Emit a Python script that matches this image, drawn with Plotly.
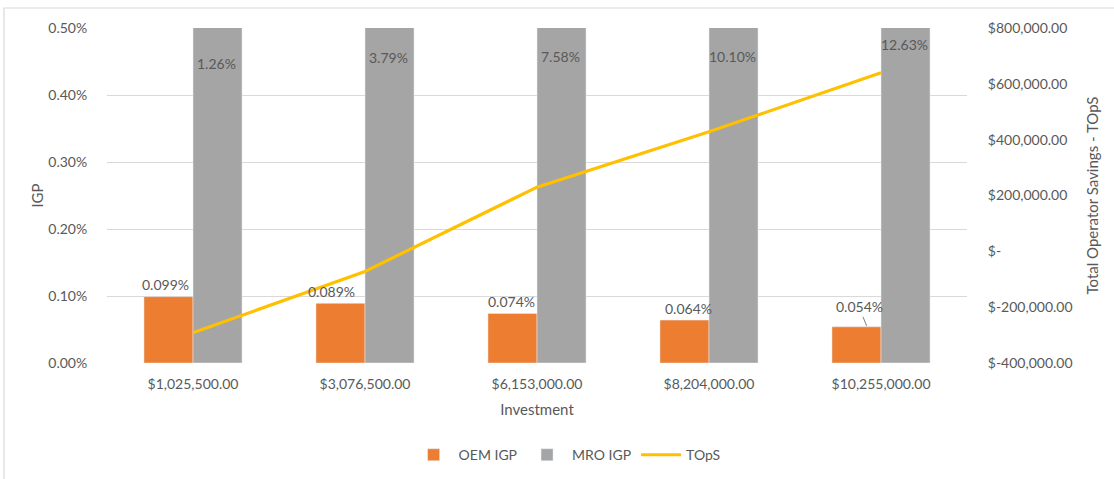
import plotly.graph_objects as go

# Investment levels (category axis)
investment = ["$1,025,500.00", "$3,076,500.00", "$6,153,000.00", "$8,204,000.00", "$10,255,000.00"]

# IGP series (fractions, shown as percent)
oem_igp = [0.00099, 0.00089, 0.00074, 0.00064, 0.00054]
mro_igp = [0.0126, 0.0379, 0.0758, 0.1010, 0.1263]

# Total operator savings (USD)
tops = [-292000, -72000, 230000, 428000, 640000]

# Right-axis ticks
tops_ticks = [-400000, -200000, 0, 200000, 400000, 600000, 800000]
tops_ticktext = ["$-400,000.00", "$-200,000.00", "$-", "$200,000.00",
                 "$400,000.00", "$600,000.00", "$800,000.00"]

FONT = "Lato, 'Open Sans', sans-serif"
TXT = "#595959"
ORANGE = "#ED7D31"
GREY = "#A5A5A5"
GOLD = "#FFC000"
FS = 14

W, H = 1114, 479
L, R, T, B = 107, 147, 28, 116

fig = go.Figure()
fig.add_trace(go.Bar(name="OEM IGP", x=investment, y=oem_igp, marker_color=ORANGE,
                     hoverinfo="skip"))
fig.add_trace(go.Bar(name="MRO IGP", x=investment, y=mro_igp, marker_color=GREY,
                     hoverinfo="skip"))
fig.add_trace(go.Scatter(name="TOpS", x=investment, y=tops, yaxis="y2", mode="lines",
                         line=dict(color=GOLD, width=3.2)))

annotations = []
# OEM labels above the orange bars
oem_dx = [-28, -34, -26, -21, -21]
for i, (cat, v, dx) in enumerate(zip(investment, oem_igp, oem_dx)):
    last = i == len(investment) - 1
    annotations.append(dict(
        x=cat, y=v, xref="x", yref="y", text=f"{v*100:.3f}%",
        xshift=dx if not last else -14, yshift=12 if not last else 0,
        showarrow=last, arrowhead=0, arrowcolor="#7f7f7f", arrowwidth=1,
        ax=-8, ay=-20, standoff=1,
        font=dict(family=FONT, size=FS, color=TXT),
    ))
# MRO labels near the top of the grey bars (bars exceed the axis range)
mro_offsets = [-35, -29, -28, -28, -16]
for cat, v, off in zip(investment, mro_igp, mro_offsets):
    annotations.append(dict(
        x=cat, y=0.005, xref="x", yref="y", text=f"{v*100:.2f}%",
        xshift=23, yshift=off, showarrow=False,
        font=dict(family=FONT, size=FS, color=TXT),
    ))

fig.update_layout(
    width=W, height=H,
    margin=dict(l=L, r=R, t=T, b=B, autoexpand=False),
    paper_bgcolor="white", plot_bgcolor="white",
    font=dict(family=FONT, size=FS, color=TXT),
    barmode="group", bargap=0.43, bargroupgap=0,
    showlegend=True,
    legend=dict(orientation="h", x=0.535, xanchor="center", y=-0.275, yanchor="middle",
                font=dict(family=FONT, size=FS, color=TXT), traceorder="normal",
                itemwidth=40),
    xaxis=dict(
        showgrid=False, zeroline=False, showline=False,
        ticks="outside", ticklen=8, tickcolor="rgba(0,0,0,0)",
        tickfont=dict(family=FONT, size=FS, color=TXT),
        title=dict(text="Investment", font=dict(family=FONT, size=FS + 1, color=TXT), standoff=13),
        automargin=False, fixedrange=True,
    ),
    yaxis=dict(
        range=[0, 0.005], tickvals=[0, 0.001, 0.002, 0.003, 0.004, 0.005],
        tickformat=".2%", showgrid=True, gridcolor="#d9d9d9", gridwidth=1,
        zeroline=False, showline=False,
        ticks="outside", ticklen=16, tickcolor="rgba(0,0,0,0)",
        tickfont=dict(family=FONT, size=FS, color=TXT),
        title=dict(text="IGP", font=dict(family=FONT, size=FS + 1, color=TXT), standoff=1),
        automargin=False, fixedrange=True,
    ),
    yaxis2=dict(
        overlaying="y", side="right", range=[-400000, 800000],
        tickvals=tops_ticks, ticktext=tops_ticktext,
        showgrid=False, zeroline=False, showline=False,
        ticks="outside", ticklen=17, tickcolor="rgba(0,0,0,0)",
        tickfont=dict(family=FONT, size=FS, color=TXT),
        title=dict(text="Total Operator Savings - TOpS",
                   font=dict(family=FONT, size=FS + 1, color=TXT), standoff=15),
        automargin=False, fixedrange=True,
    ),
    annotations=annotations,
)

# outer chart frame
pw, ph = W - L - R, H - T - B
def px_x(p):
    return (p - L) / pw
def px_y(p):
    return (H - B - p) / ph
fig.add_shape(type="rect", xref="paper", yref="paper",
              x0=px_x(4), x1=px_x(1130), y0=px_y(8), y1=px_y(500),
              line=dict(color="#d9d9d9", width=1.2), fillcolor="rgba(0,0,0,0)", layer="below")

fig.write_html("out.html")
